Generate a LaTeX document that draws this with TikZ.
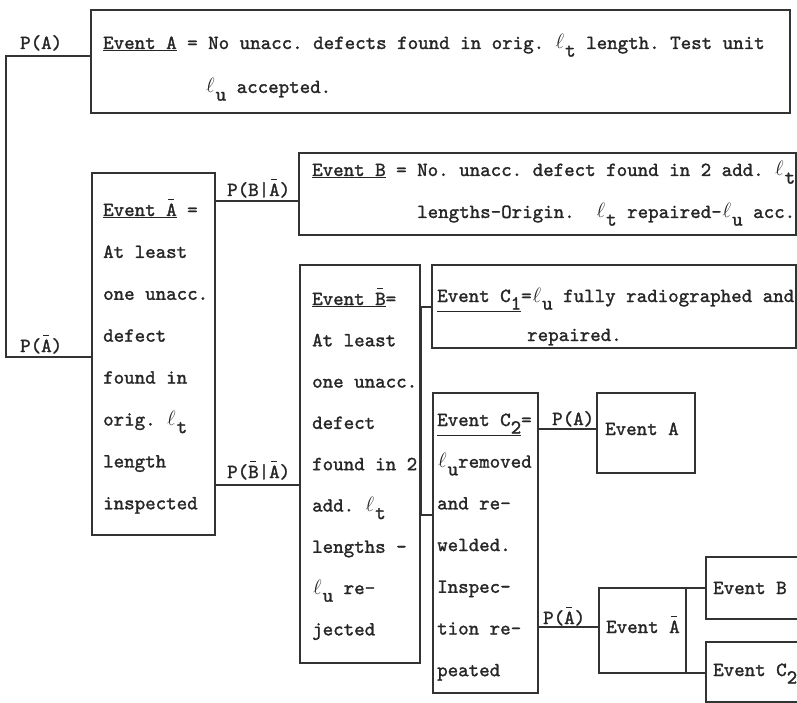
\documentclass[tikz,border=0pt]{standalone}
\usepackage{fontspec}
\newfontfamily\twfont{lmmono10-regular.otf}[FakeBold=1.4]
\newcommand\ellc{\makebox[0.525em]{$\ell$}}
\newcommand\lowr[1]{\raisebox{-0.38em}{#1}}
\newcommand\ovl[1]{\leavevmode\rlap{\hbox to 0.525em{\hss\rule[0.78em]{0.3em}{0.06em}\hss}}#1}
\tikzset{
  box/.style={draw=black!80, line width=1.1pt, inner sep=0pt, rectangle},
  conn/.style={draw=black!80, line width=1.1pt},
  txt/.style={anchor=base west, inner sep=0pt, text=black!85,
              font=\fontsize{20}{24}\selectfont\twfont\frenchspacing},
}
\begin{document}
\begin{tikzpicture}[x=1pt,y=-1pt]
\useasboundingbox (0,0) rectangle (797,703);
\clip (0,0) rectangle (797,703);
\fill[white] (0,0) rectangle (797,703);

% boxes
\node[box, minimum width=699pt, minimum height=103pt] (A) at (440.5,61.5) {};
\node[box, minimum width=123pt, minimum height=362pt] (Abar) at (153.5,354) {};
\node[box, minimum width=497pt, minimum height=82pt] (B) at (547.5,194) {};
\node[box, minimum width=120pt, minimum height=398pt] (Bbar) at (360,464) {};
\node[box, minimum width=364pt, minimum height=83pt] (C1) at (614,306.5) {};
\node[box, minimum width=105pt, minimum height=300pt] (C2) at (485.5,543) {};
\node[box, minimum width=98pt, minimum height=80pt] (EA) at (646,433) {};
\node[box, minimum width=87pt, minimum height=85pt] (EAbar) at (642.5,630.5) {};
\node[box, minimum width=124pt, minimum height=62pt] (EB) at (768,588) {};
\node[box, minimum width=124pt, minimum height=60pt] (EC) at (768,672) {};

% box texts
\node[txt] (ta1) at (103,49) {\underline{Event A} = No unacc. defects found in orig. \ellc\lowr{t} length. Test unit};
\node[txt] (ta2) at (205,93) {\ellc\lowr{u} accepted.};

\node[txt] (tb1) at (312,176) {\underline{Event B} = No. unacc. defect found in 2 add. \ellc\lowr{t}};
\node[txt] (tb2) at (417,218) {lengths-Origin.~ \ellc\lowr{t} repaired-\ellc\lowr{u} acc.};

\node[txt] (tc1) at (437,302) {\underline{Event C\lowr{1}}=\ellc\lowr{u} fully radiographed and};
\node[txt] (tc2) at (527,341) {repaired.};

\foreach \t [count=\i from 0] in {{\underline{Event \ovl{A}} =},{At least},{one unacc.},{defect},{found in},{orig. \ellc\lowr{t}},{length},{inspected}}
  \node[txt] (tabar\i) at (103,216+41.9*\i) {\t};

\foreach \t [count=\i from 0] in {{\underline{Event \ovl{B}}=},{At least},{one unacc.},{defect},{found in 2},{add. \ellc\lowr{t}},{lengths -},{\ellc\lowr{u} re-},{jected}}
  \node[txt] (tbbar\i) at (312,305+41.3*\i) {\t};

\foreach \t [count=\i from 0] in {{\underline{Event C\lowr{2}}=},{\ellc\lowr{u}removed},{and re-},{welded.},{Inspec-},{tion re-},{peated}}
  \node[txt] (tctwo\i) at (437,426+41.7*\i) {\t};

\node[txt] (tea) at (605,435) {Event A};
\node[txt] (teabar) at (606,633) {Event \ovl{A}};
\node[txt] (teb) at (713,594) {Event B};
\node[txt] (tec) at (713,676) {Event C\lowr{2}};

% connectors
\coordinate (ja) at (6,56);
\coordinate (jb) at (6,357);
\draw[conn] (A.west |- ja) -- (ja) -- (jb) -- (Abar.west |- jb);
\node[txt] (lpa) at (20,49) {P(A)};
\node[txt] (lpabar) at (20,352) {P(\ovl{A})};

\coordinate (yb) at (0,201);
\draw[conn] (Abar.east |- yb) -- (B.west |- yb);
\node[txt] (lpba) at (227,196) {P(B|\ovl{A})};
\coordinate (ybb) at (0,485);
\draw[conn] (Abar.east |- ybb) -- (Bbar.west |- ybb);
\node[txt] (lpbbara) at (227,478) {P(\ovl{B}|\ovl{A})};

\coordinate (kc1) at (421.5,307);
\coordinate (kc2) at (421.5,515);
\draw[conn] (C1.west |- kc1) -- (kc1) -- (kc2) -- (C2.west |- kc2);

\coordinate (yea) at (0,429);
\draw[conn] (C2.east |- yea) -- (EA.west |- yea);
\node[txt] (lpa2) at (552,425) {P(A)};
\coordinate (yeab) at (0,627);
\draw[conn] (C2.east |- yeab) -- (EAbar.west |- yeab);
\node[txt] (lpabar2) at (543,624) {P(\ovl{A})};

\coordinate (yeb) at (0,588);
\draw[conn] (EAbar.east |- yeb) -- (EB.west |- yeb);
\coordinate (yec) at (0,673);
\draw[conn] (EAbar.east |- yec) -- (EC.west |- yec);
\end{tikzpicture}
\end{document}
